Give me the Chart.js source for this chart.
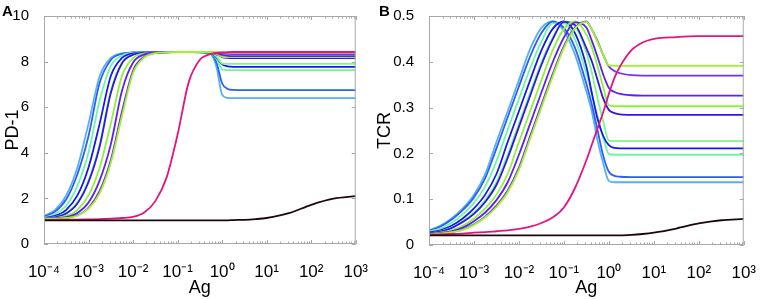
<!DOCTYPE html>
<html lang="en">
<head>
<meta charset="UTF-8">
<title>PD-1 and TCR versus Ag</title>
<script src="https://cdn.jsdelivr.net/npm/chart.js"></script>
<style>
  body { margin: 0; background: #fff; width: 766px; height: 299px; position: relative; overflow: hidden;
         font-family: 'Liberation Sans', Arial, sans-serif; }
  canvas { position: absolute; top: 0; }
  #chartA { left: 0; }
  #chartB { left: 374px; }
  .tag { position: absolute; top: 3px; font-weight: bold; font-size: 15px; line-height: 15px; color: #000; }
</style>
</head>
<body>
<canvas id="chartA" width="378" height="299"></canvas>
<canvas id="chartB" width="392" height="299"></canvas>
<div class="tag" style="left:2px">A</div>
<div class="tag" style="left:379px">B</div>

<script>
// log10(Ag) sample points shared by every curve
const agExp = [-4, -3.75, -3.5, -3.25, -3, -2.75, -2.5, -2.25, -2, -1.75, -1.5, -1.25, -1, -0.75,
               -0.5, -0.375, -0.25, -0.125, 0, 0.125, 0.25, 0.5, 0.75, 1, 1.5, 2, 2.5, 3];
const xTickExp = [-4, -3, -2, -1, 0, 1, 2, 3];
const pdTicks = [0, 2, 4, 6, 8, 10];
const tcrTicks = [0, 0.1, 0.2, 0.3, 0.4, 0.5];

// panel A: PD-1
const pd1 = [1.23,1.50,2.13,3.36,5.28,7.37,8.16,8.36,8.40,8.41,8.42,8.42,8.42,8.42,8.41,8.40,8.33,7.75,6.55,6.41,6.40,6.40,6.40,6.40,6.40,6.40,6.40,6.40];
const pd2 = [1.19,1.42,1.96,3.06,4.74,7.07,8.07,8.34,8.40,8.41,8.42,8.42,8.42,8.42,8.41,8.40,8.35,7.95,7.05,6.80,6.76,6.75,6.75,6.75,6.75,6.75,6.75,6.75];
const pd3 = [1.16,1.31,1.69,2.55,4.02,6.29,7.80,8.27,8.39,8.41,8.42,8.42,8.42,8.42,8.42,8.41,8.37,8.12,7.66,7.63,7.63,7.63,7.63,7.63,7.63,7.63,7.63,7.63];
const pd4 = [1.14,1.23,1.50,2.13,3.36,5.28,7.37,8.16,8.36,8.40,8.41,8.42,8.42,8.42,8.42,8.41,8.38,8.18,7.88,7.79,7.77,7.77,7.77,7.77,7.77,7.77,7.77,7.77];
const pd5 = [1.13,1.18,1.36,1.82,2.79,4.37,6.71,7.96,8.31,8.39,8.41,8.42,8.42,8.42,8.42,8.42,8.39,8.22,7.91,7.90,7.90,7.90,7.90,7.90,7.90,7.90,7.90,7.90];
const pd6 = [1.12,1.17,1.34,1.78,2.72,4.28,6.62,7.92,8.30,8.39,8.41,8.42,8.42,8.42,8.42,8.42,8.40,8.32,8.20,8.16,8.15,8.15,8.15,8.15,8.15,8.15,8.15,8.15];
const pd7 = [1.11,1.14,1.23,1.50,2.13,3.36,5.28,7.37,8.16,8.36,8.40,8.41,8.42,8.42,8.42,8.42,8.41,8.34,8.21,8.20,8.20,8.20,8.20,8.20,8.20,8.20,8.20,8.20];
const pd8 = [1.10,1.13,1.18,1.36,1.82,2.79,4.37,6.71,7.96,8.31,8.40,8.41,8.42,8.42,8.42,8.42,8.41,8.37,8.29,8.25,8.24,8.24,8.24,8.24,8.24,8.24,8.24,8.24];
const pd9 = [1.10,1.12,1.15,1.26,1.59,2.33,3.68,5.80,7.61,8.22,8.38,8.41,8.42,8.42,8.42,8.42,8.42,8.40,8.36,8.34,8.33,8.33,8.33,8.33,8.33,8.33,8.33,8.33];
const pd10 = [1.09,1.11,1.14,1.24,1.55,2.22,3.55,5.60,7.50,8.18,8.37,8.41,8.42,8.42,8.42,8.42,8.42,8.42,8.41,8.40,8.40,8.40,8.40,8.40,8.40,8.40,8.40,8.40];
const pdMag = [1.06,1.06,1.07,1.07,1.08,1.09,1.11,1.14,1.19,1.38,1.88,2.90,4.80,7.10,8.08,8.25,8.34,8.38,8.40,8.41,8.42,8.42,8.42,8.42,8.42,8.42,8.42,8.42];
const pdBlack = [1.04,1.04,1.04,1.04,1.04,1.04,1.04,1.04,1.04,1.04,1.04,1.04,1.04,1.04,1.04,1.04,1.04,1.04,1.04,1.04,1.05,1.06,1.09,1.14,1.35,1.72,1.99,2.10];

// panel B: TCR
const tcr1 = [0.032,0.042,0.058,0.080,0.110,0.155,0.225,0.292,0.360,0.428,0.474,0.488,0.468,0.415,0.335,0.290,0.228,0.178,0.140,0.137,0.137,0.137,0.137,0.137,0.137,0.137,0.137,0.137];
const tcr2 = [0.031,0.040,0.055,0.076,0.104,0.146,0.211,0.279,0.346,0.412,0.463,0.488,0.474,0.430,0.352,0.305,0.250,0.195,0.160,0.151,0.149,0.148,0.148,0.148,0.148,0.148,0.148,0.148];
const tcr3 = [0.029,0.036,0.048,0.067,0.092,0.128,0.183,0.252,0.319,0.386,0.444,0.484,0.484,0.448,0.375,0.330,0.280,0.235,0.199,0.197,0.197,0.197,0.197,0.197,0.197,0.197,0.197,0.197];
const tcr4 = [0.027,0.032,0.042,0.058,0.080,0.110,0.155,0.225,0.292,0.360,0.425,0.472,0.488,0.462,0.390,0.330,0.275,0.238,0.218,0.212,0.211,0.211,0.211,0.211,0.211,0.211,0.211,0.211];
const tcr5 = [0.025,0.030,0.038,0.052,0.071,0.098,0.137,0.197,0.265,0.333,0.399,0.453,0.487,0.478,0.420,0.375,0.320,0.270,0.228,0.227,0.227,0.227,0.227,0.227,0.227,0.227,0.227,0.227];
const tcr6 = [0.025,0.029,0.037,0.050,0.068,0.094,0.131,0.190,0.258,0.326,0.393,0.449,0.487,0.480,0.430,0.400,0.360,0.320,0.295,0.288,0.285,0.284,0.284,0.284,0.284,0.284,0.284,0.284];
const tcr7 = [0.024,0.027,0.032,0.042,0.058,0.080,0.110,0.155,0.225,0.292,0.360,0.425,0.472,0.488,0.460,0.430,0.390,0.345,0.305,0.303,0.303,0.303,0.303,0.303,0.303,0.303,0.303,0.303];
const tcr8 = [0.023,0.026,0.030,0.038,0.052,0.071,0.098,0.137,0.197,0.265,0.333,0.399,0.453,0.486,0.475,0.445,0.410,0.372,0.343,0.334,0.330,0.327,0.326,0.326,0.326,0.326,0.326,0.326];
const tcr9 = [0.022,0.025,0.028,0.034,0.045,0.062,0.086,0.119,0.169,0.238,0.306,0.373,0.434,0.475,0.488,0.470,0.445,0.415,0.390,0.380,0.375,0.371,0.370,0.370,0.370,0.370,0.370,0.370];
const tcr10 = [0.022,0.025,0.028,0.033,0.044,0.060,0.083,0.115,0.164,0.232,0.300,0.368,0.430,0.473,0.487,0.470,0.443,0.415,0.392,0.391,0.391,0.391,0.391,0.391,0.391,0.391,0.391,0.391];
const tcrMag = [0.022,0.023,0.024,0.025,0.027,0.028,0.030,0.032,0.035,0.040,0.048,0.060,0.082,0.125,0.185,0.220,0.255,0.290,0.330,0.365,0.390,0.425,0.442,0.450,0.454,0.456,0.456,0.456];
const tcrBlack = [0.021,0.021,0.021,0.021,0.021,0.021,0.021,0.021,0.021,0.021,0.021,0.021,0.021,0.021,0.021,0.021,0.021,0.021,0.021,0.021,0.021,0.022,0.024,0.027,0.036,0.047,0.054,0.057];

const curveColors = ['#55b0f5', '#2f5ef2', '#6cf7a2', '#1818ee', '#7ff58a', '#3216e8',
                     '#8ef23c', '#5a22ee', '#7a2cf2', '#9af52a'];
const magentaColor = '#e2157f';
const blackColor = '#1c0808';

const supMap = { '-': '\u207B', '0': '\u2070', '1': '\u00B9', '2': '\u00B2', '3': '\u00B3', '4': '\u2074' };

// gray box with inward ticks, like the original figure
const boxTicks = {
  id: 'boxTicks',
  afterDatasetsDraw(chart) {
    const { ctx, chartArea: a, scales: { x, y } } = chart;
    ctx.save();
    ctx.strokeStyle = '#a8a8a8';
    ctx.lineWidth = 1;
    ctx.strokeRect(a.left + 0.5, a.top + 0.5, a.right - a.left - 1, a.bottom - a.top - 1);
    ctx.beginPath();
    xTickExp.forEach(e => {
      for (let m = 1; m <= 9; m++) {
        const v = m * Math.pow(10, e);
        if (v > x.max * 1.0001) break;
        const px = Math.round(x.getPixelForValue(v)) + 0.5;
        const len = m === 1 ? 4 : 2.5;
        ctx.moveTo(px, a.bottom); ctx.lineTo(px, a.bottom - len);
        ctx.moveTo(px, a.top); ctx.lineTo(px, a.top + len);
      }
    });
    y.ticks.forEach(t => {
      const py = Math.round(y.getPixelForValue(t.value)) + 0.5;
      ctx.moveTo(a.left, py); ctx.lineTo(a.left + 4, py);
      ctx.moveTo(a.right, py); ctx.lineTo(a.right - 4, py);
    });
    ctx.stroke();
    ctx.restore();
  }
};

function toPoints(values) {
  return agExp.map((e, i) => ({ x: Math.pow(10, e), y: values[i] }));
}

function makeChart(id, curves, mag, blk, yTicks, yTitle, box) {
  const datasets = [
    { data: toPoints(blk), borderColor: blackColor },
    { data: toPoints(mag), borderColor: magentaColor }
  ];
  curves.slice().reverse().forEach((c, k) => {
    const idx = curves.length - 1 - k;
    datasets.push({ data: toPoints(c), borderColor: curveColors[idx] });
  });

  return new Chart(document.getElementById(id), {
    type: 'line',
    data: { datasets },
    options: {
      responsive: false,
      animation: false,
      layout: { padding: { top: 6, right: box.padRight, left: 0, bottom: 0 } },
      elements: {
        point: { radius: 0 },
        line: { borderWidth: 1.8, cubicInterpolationMode: 'monotone', fill: false }
      },
      plugins: { legend: { display: false }, tooltip: { enabled: false } },
      scales: {
        x: {
          type: 'logarithmic',
          min: 1e-4,
          max: 1e3,
          grid: { display: false },
          border: { display: false },
          afterBuildTicks: s => { s.ticks = xTickExp.map(e => ({ value: Math.pow(10, e) })); },
          ticks: {
            color: '#000',
            font: { family: 'Liberation Sans', size: 17 },
            padding: 10,
            maxRotation: 0,
            autoSkip: false,
            callback: v => '10' + String(Math.round(Math.log10(v))).split('').map(c => supMap[c]).join('')
          },
          title: { display: true, text: 'Ag', color: '#000', font: { family: 'Liberation Sans', size: 18 }, padding: { top: 0, bottom: 0 } },
          afterFit: s => { s.height = box.xHeight; }
        },
        y: {
          min: yTicks[0],
          max: yTicks[yTicks.length - 1],
          grid: { display: false },
          border: { display: false },
          afterBuildTicks: s => { s.ticks = yTicks.map(v => ({ value: v })); },
          ticks: {
            color: '#000',
            font: { family: 'Liberation Sans', size: 15 },
            padding: 7,
            callback: v => String(v)
          },
          title: { display: true, text: yTitle, color: '#000', font: { family: 'Liberation Sans', size: 18 }, padding: { top: box.titlePad, bottom: 0 } },
          afterFit: s => { s.width = box.yWidth; }
        }
      }
    },
    plugins: [boxTicks]
  });
}

makeChart('chartA', [pd1, pd2, pd3, pd4, pd5, pd6, pd7, pd8, pd9, pd10], pdMag, pdBlack, pdTicks, 'PD-1',
  { padRight: 10, xHeight: 55, yWidth: 44, titlePad: 2 });
makeChart('chartB', [tcr1, tcr2, tcr3, tcr4, tcr5, tcr6, tcr7, tcr8, tcr9, tcr10], tcrMag, tcrBlack, tcrTicks, 'TCR',
  { padRight: 13, xHeight: 54, yWidth: 55, titlePad: 0 });
</script>
</body>
</html>
